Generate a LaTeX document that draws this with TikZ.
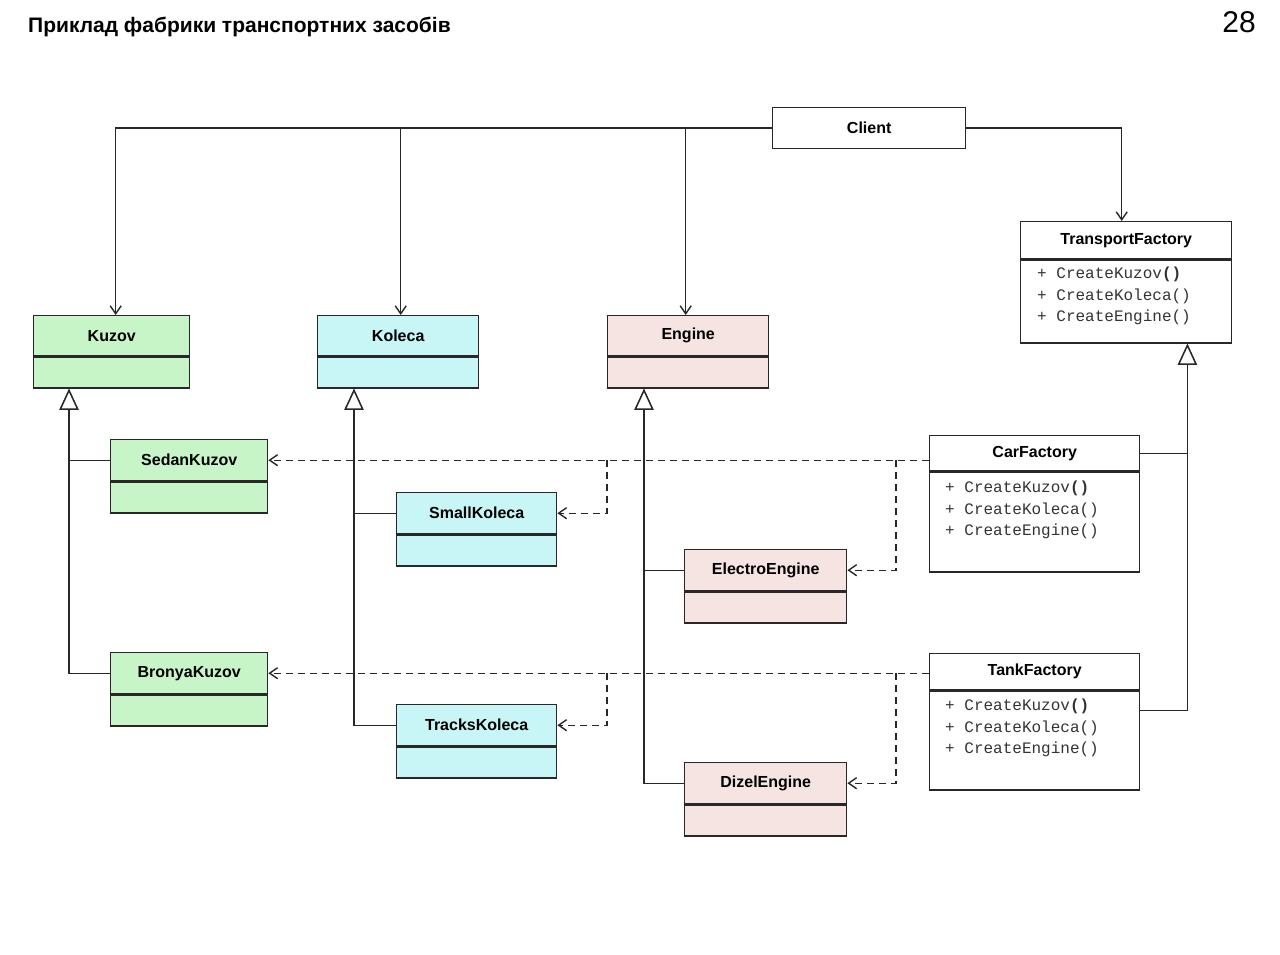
\documentclass[tikz,border=0pt]{standalone}
\usepackage{fontspec}
\setmainfont{Liberation Sans}
\setmonofont{Liberation Mono}
\usetikzlibrary{arrows.meta,positioning}

\definecolor{kuzovgreen}{RGB}{200,245,200}
\definecolor{kolecacyan}{RGB}{200,245,245}
\definecolor{enginepink}{RGB}{245,228,226}
\definecolor{linegray}{RGB}{40,40,40}

\begin{document}
\begin{tikzpicture}[x=1pt, y=-1pt,
        clsname/.style={draw=linegray, line width=1.4pt, anchor=north west, minimum height=41pt, inner sep=0pt, font=\bfseries\fontsize{16}{18}\selectfont},
        clsbody/.style={draw=linegray, line width=1.4pt, inner sep=0pt, minimum height=31pt},
        methods/.style={anchor=north west, align=left, inner sep=0pt, text=black!80, font=\ttfamily\fontsize{16}{21.5}\selectfont},
        assoc/.style={draw=linegray, line width=1.4pt, -{Straight Barb[length=8pt,width=11pt]}},
        depend/.style={draw=linegray, line width=1.4pt, dash pattern=on 7pt off 5pt, -{Straight Barb[length=8pt,width=11pt]}},
        inherit/.style={draw=linegray, line width=1.4pt, -{Triangle[open,length=21pt,width=19pt,fill=white]}}]
    \useasboundingbox (0,0) rectangle (1280,955);
    \node (title) [anchor=west, inner sep=0pt, font=\bfseries\fontsize{21}{25}\selectfont] at (28,27) {Приклад фабрики транспортних засобів};
    \node (page) [anchor=east, inner sep=0pt, font=\fontsize{30}{36}\selectfont] at (1256,22) {28};

    \node (client) [clsname, minimum width=193pt] at (772,107) {Client};

    \node (tf) [clsname, minimum width=211pt, minimum height=37pt] at (1020,221) {TransportFactory};
    \node (tfB) [clsbody, minimum width=211pt, minimum height=83pt, below=0pt of tf] {};
    \node (tfM) [methods] at (1037,267) {+ CreateKuzov\textbf{()}\\+ CreateKoleca()\\+ CreateEngine()};

    \node (carF) [clsname, minimum width=210pt, minimum height=35pt] at (929,435) {CarFactory};
    \node (carFB) [clsbody, minimum width=210pt, minimum height=100pt, below=0pt of carF] {};
    \node (carFM) [methods] at (945,481) {+ CreateKuzov\textbf{()}\\+ CreateKoleca()\\+ CreateEngine()};

    \node (tankF) [clsname, minimum width=210pt, minimum height=36pt] at (929,653) {TankFactory};
    \node (tankFB) [clsbody, minimum width=210pt, minimum height=99pt, below=0pt of tankF] {};
    \node (tankFM) [methods] at (945,699) {+ CreateKuzov\textbf{()}\\+ CreateKoleca()\\+ CreateEngine()};

    \node (kuzov) [clsname, fill=kuzovgreen, minimum width=156pt, minimum height=40pt] at (33,315) {Kuzov};
    \node (kuzovB) [clsbody, fill=kuzovgreen, minimum width=156pt, below=0pt of kuzov] {};
    \node (koleca) [clsname, fill=kolecacyan, minimum width=161pt, minimum height=40pt] at (317,315) {Koleca};
    \node (kolecaB) [clsbody, fill=kolecacyan, minimum width=161pt, below=0pt of koleca] {};
    \node (engine) [clsname, fill=enginepink, minimum width=161pt, minimum height=40pt] at (607,315) {Engine};
    \node (engineB) [clsbody, fill=enginepink, minimum width=161pt, below=0pt of engine] {};

    \node (sedan) [clsname, fill=kuzovgreen, minimum width=157pt] at (110,439) {SedanKuzov};
    \node (sedanB) [clsbody, fill=kuzovgreen, minimum width=157pt, below=0pt of sedan] {};
    \node (bronya) [clsname, fill=kuzovgreen, minimum width=157pt] at (110,652) {BronyaKuzov};
    \node (bronyaB) [clsbody, fill=kuzovgreen, minimum width=157pt, below=0pt of bronya] {};

    \node (small) [clsname, fill=kolecacyan, minimum width=160pt] at (396,492) {SmallKoleca};
    \node (smallB) [clsbody, fill=kolecacyan, minimum width=160pt, below=0pt of small] {};
    \node (tracks) [clsname, fill=kolecacyan, minimum width=160pt] at (396,704) {TracksKoleca};
    \node (tracksB) [clsbody, fill=kolecacyan, minimum width=160pt, below=0pt of tracks] {};

    \node (electro) [clsname, fill=enginepink, minimum width=162pt] at (684,549) {ElectroEngine};
    \node (electroB) [clsbody, fill=enginepink, minimum width=162pt, below=0pt of electro] {};
    \node (dizel) [clsname, fill=enginepink, minimum width=162pt] at (684,762) {DizelEngine};
    \node (dizelB) [clsbody, fill=enginepink, minimum width=162pt, below=0pt of dizel] {};

    \draw [assoc] (client.west) -| ([xshift=4pt]kuzov.north);
    \draw [assoc] (client.west) -| ([xshift=2.5pt]koleca.north);
    \draw [assoc] (client.west) -| ([xshift=-2.5pt]engine.north);
    \draw [assoc] (client.east) -| ([xshift=-4.5pt]tf.north);

    \draw [inherit] (sedan.west) -| ([xshift=36pt]kuzovB.south west);
    \draw [inherit] (bronya.west) -| ([xshift=36pt]kuzovB.south west);
    \draw [inherit] (small.west) -| ([xshift=37pt]kolecaB.south west);
    \draw [inherit] (tracks.west) -| ([xshift=37pt]kolecaB.south west);
    \draw [inherit] (electro.west) -| ([xshift=37pt]engineB.south west);
    \draw [inherit] (dizel.west) -| ([xshift=37pt]engineB.south west);
    \draw [inherit] (carF.east) -| ([xshift=-45pt]tfB.south east);
    \draw [inherit] ([yshift=-20pt]tankFB.north east) -| ([xshift=-45pt]tfB.south east);

    \coordinate (carK) at (607,460);
    \coordinate (carE) at (896,460);
    \coordinate (tankK) at (607,673);
    \coordinate (tankE) at (896,673);
    \draw [depend] (carF.west |- sedan.east) -- (sedan.east);
    \draw [depend] (carK) |- (small.east);
    \draw [depend] (carE) |- (electro.east);
    \draw [depend] (tankF.west |- bronya.east) -- (bronya.east);
    \draw [depend] (tankK) |- (tracks.east);
    \draw [depend] (tankE) |- (dizel.east);
\end{tikzpicture}
\end{document}
